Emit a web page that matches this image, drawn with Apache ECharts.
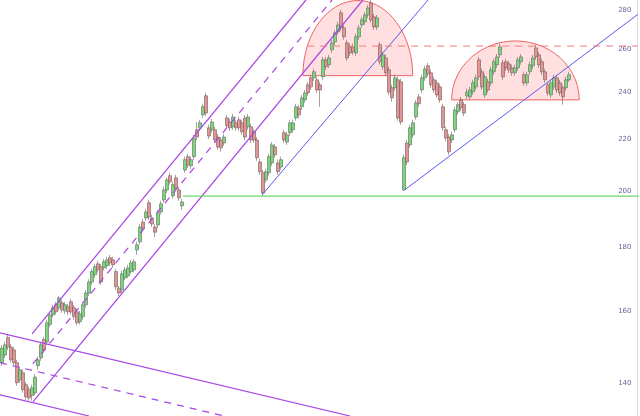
<!DOCTYPE html>
<html>
<head>
<meta charset="utf-8">
<script src="https://cdn.jsdelivr.net/npm/echarts@6/dist/echarts.min.js"></script>
<style>
html, body { margin: 0; padding: 0; background: #fff; }
#chart { width: 640px; height: 416px; }
</style>
</head>
<body>
<div id="chart"></div>
<script>
// daily candles (index = trading day)
const opens = [
  145.3,147.4,152.3,149.6,148.8,145.3,140.7,142.6,139.5,138.2,
  136.7,137.4,144.5,146.6,151.7,151.0,156.0,158.8,161.8,160.9,
  162.4,160.0,161.2,162.7,160.9,159.7,156.8,158.3,161.8,165.4,
  168.8,171.1,174.6,173.7,173.3,174.0,176.6,175.9,172.1,166.9,
  166.3,170.1,170.7,172.1,172.7,179.2,181.9,188.7,190.1,195.6,
  190.1,187.0,187.7,192.3,196.6,200.3,205.7,198.1,204.9,200.3,
  194.5,207.9,213.1,209.5,213.1,224.0,224.8,230.3,238.6,224.8,
  224.0,224.0,221.0,219.8,218.6,229.0,227.3,225.3,226.9,228.2,
  226.9,229.0,225.3,225.3,223.2,219.8,211.0,206.8,204.1,206.8,
  210.6,217.0,210.6,209.1,222.8,219.0,222.8,224.0,229.0,233.3,
  233.8,236.8,243.5,246.7,246.7,245.8,243.5,247.2,255.1,252.8,
  259.9,263.8,268.7,278.4,270.7,263.3,261.3,261.3,258.4,266.3,
  272.2,273.8,277.3,283.5,276.3,271.2,262.4,251.9,256.0,250.4,
  242.2,242.2,245.8,244.9,200.3,218.6,217.8,221.9,229.4,238.1,
  241.2,246.7,252.3,249.0,245.8,244.4,242.6,233.8,224.0,221.0,
  219.8,224.0,231.6,236.8,234.7,238.6,238.1,240.3,242.6,255.1,
  249.5,239.0,244.9,244.4,249.5,252.8,257.5,253.7,254.2,253.2,
  251.3,249.0,251.3,254.2,248.1,244.4,249.5,252.3,260.8,257.5,
  254.2,249.5,243.5,239.0,242.6,246.7,244.4,242.2,242.2,245.8
]
const closes = [
  149.3,150.2,149.6,146.1,145.3,140.0,143.4,138.2,136.4,136.1,
  138.7,141.5,146.1,150.2,148.8,156.5,158.8,160.9,159.7,163.9,
  160.3,161.8,159.7,159.7,158.3,156.5,159.1,161.8,165.4,168.8,
  172.1,173.7,172.7,168.8,175.3,175.9,174.9,174.3,167.3,165.4,
  171.4,172.7,173.3,174.9,175.3,180.9,187.0,186.6,192.3,190.5,
  188.0,185.2,192.0,195.2,200.3,204.1,203.4,202.3,201.0,197.4,
  195.9,211.9,209.8,211.9,220.6,221.0,226.9,233.8,231.1,221.4,
  227.3,219.8,217.0,216.6,221.0,225.7,224.8,229.4,224.8,224.8,
  223.2,221.0,229.4,219.8,219.8,212.7,207.2,199.2,207.2,213.1,
  217.8,213.8,207.2,211.9,219.8,221.9,226.9,226.9,233.8,230.3,
  237.7,239.9,239.9,242.6,249.5,241.2,241.2,255.1,251.9,256.0,
  263.3,268.2,272.2,270.7,266.3,256.0,258.4,258.9,266.3,270.7,
  274.8,277.3,280.9,274.8,271.2,275.8,254.2,257.5,249.0,240.3,
  237.7,246.7,229.0,227.3,212.7,211.0,224.8,226.9,235.5,235.1,
  246.7,250.8,248.5,243.5,241.2,239.0,236.8,224.8,220.6,215.0,
  221.9,232.4,234.7,233.3,231.1,240.3,241.2,244.4,246.7,247.2,
  242.6,247.2,241.2,250.4,254.2,256.5,261.3,247.2,251.3,250.4,
  249.0,251.3,255.1,256.5,244.4,248.1,252.8,256.0,256.5,252.8,
  249.5,245.8,239.9,244.4,246.7,241.2,239.9,238.1,245.8,248.1
]
const lows = [
  144.4,146.6,148.8,145.3,144.5,139.2,140.0,137.4,135.6,135.4,
  135.4,136.7,143.4,145.8,148.0,150.2,155.2,158.0,158.9,160.0,
  159.4,159.1,158.8,158.9,157.4,155.7,156.0,157.4,160.9,164.5,
  167.9,170.1,171.8,167.9,172.4,173.0,174.0,173.3,166.3,164.5,
  165.4,169.4,170.1,171.4,171.8,177.5,181.0,185.6,189.1,189.4,
  187.0,183.5,186.6,191.3,195.6,199.2,202.3,197.1,199.9,196.3,
  193.0,206.8,208.7,208.3,211.9,219.8,223.6,229.0,229.8,220.2,
  222.8,218.6,215.8,215.0,217.4,224.4,223.6,224.0,223.6,223.6,
  221.9,219.8,224.0,218.6,218.6,211.5,206.0,198.1,203.0,205.7,
  209.5,212.7,206.0,207.9,218.6,217.8,221.4,222.8,227.8,229.0,
  232.4,235.5,238.6,241.2,245.3,239.9,233.8,245.8,250.4,251.3,
  258.4,262.4,267.2,269.2,264.8,254.6,257.0,257.5,257.0,264.8,
  270.7,272.2,275.8,273.3,269.7,269.7,252.8,250.4,247.6,239.0,
  235.9,240.8,227.8,226.1,199.9,209.8,216.6,220.6,228.2,233.8,
  239.9,245.3,247.2,242.2,239.9,237.7,235.5,223.6,219.4,213.8,
  218.6,222.8,230.3,232.0,229.8,237.2,236.8,239.0,241.2,245.8,
  241.2,237.7,239.9,243.1,248.1,251.3,256.0,245.8,249.9,249.0,
  247.6,247.6,249.9,252.8,243.1,243.1,248.1,250.8,255.1,251.3,
  248.1,244.4,238.6,237.7,241.2,239.9,238.6,234.7,240.8,244.9
]
const highs = [
  150.2,151.1,153.1,150.4,149.6,146.1,144.2,143.4,140.2,139.0,
  139.5,142.3,146.9,151.1,152.5,157.4,159.7,161.8,162.7,164.5,
  163.3,162.7,162.1,163.6,161.8,160.6,160.0,162.7,166.3,169.7,
  173.0,174.6,175.6,174.6,176.2,176.9,177.5,176.9,173.0,167.6,
  172.4,173.6,174.3,175.9,176.2,181.9,188.0,189.8,193.4,196.6,
  191.3,188.0,193.0,196.3,201.5,205.2,206.8,203.4,206.0,201.5,
  197.0,213.1,214.2,213.1,221.9,227.3,228.2,235.1,239.9,226.1,
  228.6,225.3,222.3,221.0,222.3,230.3,228.6,230.7,228.2,229.4,
  228.2,230.3,230.7,226.5,224.4,221.0,212.3,207.9,208.3,214.3,
  219.0,218.2,211.9,213.1,224.0,223.2,228.2,228.2,235.1,234.7,
  239.0,241.2,244.9,248.1,250.9,247.2,244.9,256.5,256.5,257.5,
  264.8,269.7,273.8,279.9,272.2,264.8,262.9,262.9,267.8,272.2,
  276.3,278.8,282.4,286.0,277.8,277.3,263.8,258.9,257.5,251.9,
  243.6,248.1,247.2,246.3,213.9,219.8,226.1,228.2,236.8,239.5,
  248.1,252.3,253.7,250.4,247.2,245.8,244.0,235.1,225.3,222.3,
  223.2,233.8,235.9,238.1,235.9,241.8,242.6,245.8,248.1,256.5,
  250.9,248.6,246.3,251.9,255.6,257.9,262.9,255.1,255.6,254.6,
  252.8,252.8,256.5,257.9,249.5,249.5,254.2,257.5,262.4,258.9,
  255.6,250.9,244.9,245.8,248.1,248.1,245.8,243.5,247.2,249.5
]

const yTicks = [140, 160, 180, 200, 220, 240, 260, 280]

// drawn studies, as [day, price] end points
const upChannelTop = [[10, 153.3], [101.3, 285.1]]
const upChannelMid = [[10.3, 145.0], [110, 285.1]]
const upChannelLow = [[10.3, 135.1], [120.3, 285.1]]
const downChannelTop = [[-0.7, 153.6], [116, 131.6]]
const downChannelMid = [[-0.7, 145.3], [74, 131.6]]
const downChannelLow = [[-0.7, 136.9], [29, 131.6]]
const blueTrendA = [[86.7, 198.5], [142, 285.1]]
const blueTrendB = [[134.3, 200.4], [213, 278.8]]
const supportLevel = [[60.3, 198.0], [213, 198.0]]
const resistLevel = [[101.7, 261.7], [213, 261.7]]
// rounded tops: [first day, last day, base price, top price]
const domes = [[100.3, 136.9, 247.7, 284.8], [149.9, 192.4, 236.8, 264.2]]

const chart = echarts.init(document.getElementById('chart'))

const candles = opens.map((o, i) => [i, o, closes[i], lows[i], highs[i]])

function trend(pts, color, dashed, width) {
  return {
    type: 'line',
    data: pts,
    symbol: 'none',
    silent: true,
    clip: true,
    z: 3,
    lineStyle: { color, width: width || 1, type: dashed ? [7, 6] : 'solid' }
  }
}

function renderDome(params, api) {
  const l = api.coord([api.value(0), api.value(2)])
  const r = api.coord([api.value(1), api.value(2)])
  const t = api.coord([api.value(0), api.value(3)])
  const cx = (l[0] + r[0]) / 2
  const rx = (r[0] - l[0]) / 2
  const ry = l[1] - t[1]
  const points = []
  for (let k = 0; k <= 60; k++) {
    const a = Math.PI * k / 60
    points.push([cx - rx * Math.cos(a), l[1] - ry * Math.sin(a)])
  }
  return {
    type: 'polygon',
    shape: { points },
    style: { fill: 'rgba(255,110,110,0.22)', stroke: '#f06262', lineWidth: 1 }
  }
}

const purple = '#a845e6'

chart.setOption({
  animation: false,
  backgroundColor: '#fff',
  grid: { left: 0, right: 3, top: 0, bottom: 0 },
  xAxis: {
    type: 'value',
    min: -0.667,
    max: 211.667,
    show: false
  },
  yAxis: {
    type: 'log',
    position: 'right',
    min: 131.6,
    max: 285.1,
    axisLine: { show: true, onZero: false, lineStyle: { color: '#dcdcdc' } },
    axisTick: { show: false },
    axisLabel: { show: false },
    splitLine: { show: false }
  },
  series: [
    {
      type: 'custom',
      renderItem: renderDome,
      data: domes,
      encode: { x: [0, 1], y: [2, 3] },
      clip: true,
      silent: true,
      z: 1
    },
    {
      type: 'candlestick',
      data: candles,
      encode: { x: 0, y: [1, 2, 3, 4] },
      barWidth: 3,
      z: 2,
      itemStyle: {
        color: '#78d878',
        color0: '#e39494',
        borderColor: '#666',
        borderColor0: '#735a5a',
        borderWidth: 0.6
      }
    },
    trend(upChannelTop, purple, false, 1.2),
    trend(upChannelMid, purple, true, 1.2),
    trend(upChannelLow, purple, false, 1.2),
    trend(downChannelTop, purple, false, 1.2),
    trend(downChannelMid, purple, true, 1.2),
    trend(downChannelLow, purple, false, 1.2),
    trend(blueTrendA, '#5a5af2', false, 1),
    trend(blueTrendB, '#5a5af2', false, 1),
    trend(supportLevel, '#6ad66a', false, 1.2),
    trend(resistLevel, '#f07a7a', true, 1),
    {
      type: 'scatter',
      data: yTicks.map(v => [210, v]),
      symbolSize: 1,
      silent: true,
      itemStyle: { color: 'transparent' },
      label: {
        show: true,
        position: 'left',
        distance: 0,
        formatter: p => String(p.value[1]),
        color: '#3c3c80',
        fontSize: 7,
        fontFamily: 'DejaVu Sans'
      }
    }
  ]
})
</script>
</body>
</html>
